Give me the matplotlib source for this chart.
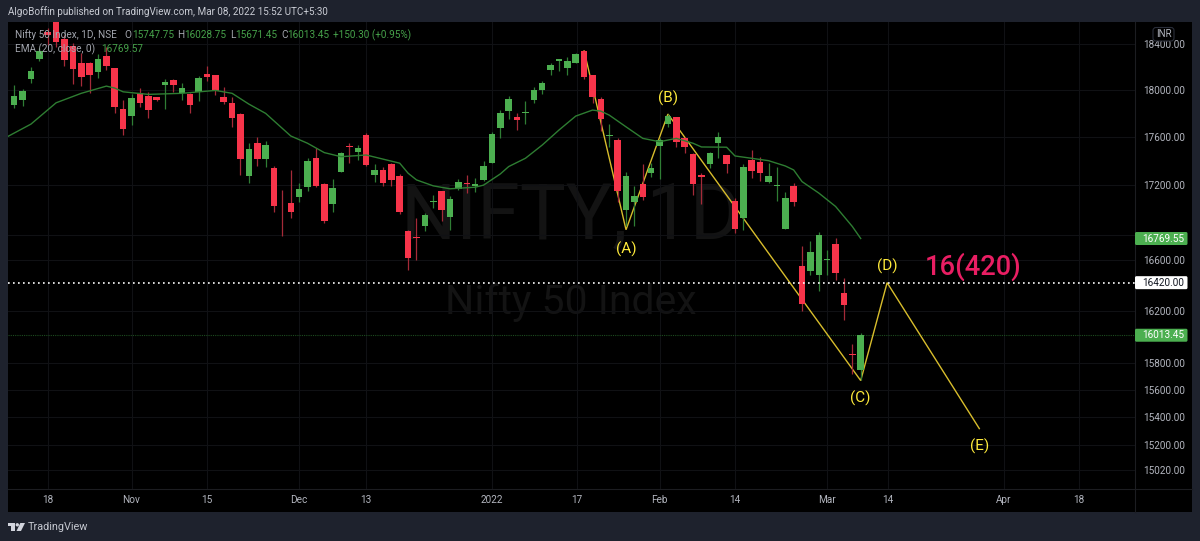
import matplotlib
matplotlib.use("Agg")
import matplotlib.pyplot as plt
from matplotlib.patches import Rectangle, FancyBboxPatch, Polygon, Circle
from matplotlib.ticker import NullLocator, FixedLocator, FixedFormatter

plt.rcParams['font.family'] = ['Roboto', 'DejaVu Sans']

# Daily NIFTY 50 candles, Oct 2021 - Mar 2022
highs = [
    18043, 18009, 18200, 18361, 18541, 18604, 18479, 18405, 18322, 18241,
    18310, 18375, 18192, 17914, 17963, 18015, 17985, 17943, 18092, 18092,
    18058, 17972, 18123, 18212, 18132, 18023, 17943, 17801, 17554, 17604,
    17565, 17360, 17164, 17327, 17218, 17424, 17507, 17218, 17253, 17479,
    17549, 17534, 17637, 17377, 17349, 17383, 17294, 16840, 16934, 16974,
    17123, 17156, 17115, 17251, 17286, 17259, 17402, 17646, 17829, 17948,
    17801, 17905, 18023, 18080, 18230, 18273, 18282, 18322, 18346, 18129,
    17943, 17708, 17595, 17308, 17191, 17374, 17383, 17590, 17795, 17772,
    17598, 17466, 17305, 17479, 17640, 17451, 17096, 17374, 17493, 17437,
    17383, 17349, 17145, 17218, 16707, 16746, 16818, 16680, 16770, 16457,
    15948, 16028.75]
body_tops = [
    17948, 17994, 18163, 18340, 18505, 18602, 18441, 18384, 18235, 18230,
    18270, 18295, 18190, 17837, 17931, 17972, 17948, 17937, 18069, 18086,
    18020, 17968, 18106, 18140, 18126, 17940, 17891, 17795, 17504, 17549,
    17537, 17341, 17060, 17055, 17170, 17404, 17427, 17213, 17180, 17471,
    17529, 17512, 17618, 17327, 17327, 17374, 17278, 16826, 16782, 16958,
    17076, 17153, 17088, 17231, 17223, 17210, 17358, 17624, 17806, 17925,
    17770, 17815, 18003, 18058, 18215, 18267, 18255, 18310, 18340, 18127,
    17923, 17620, 17573, 17280, 17109, 17210, 17341, 17573, 17780, 17767,
    17593, 17460, 17284, 17466, 17604, 17449, 17074, 17352, 17410, 17396,
    17278, 17202, 17093, 17196, 16551, 16659, 16798, 16606, 16726, 16340,
    15873, 16013.45]
body_bottoms = [
    17869, 17914, 18095, 18270, 18476, 18418, 18264, 18178, 18114, 18126,
    18155, 18212, 17857, 17671, 17780, 17886, 17829, 17914, 18040, 18043,
    17974, 17871, 17980, 18109, 17994, 17900, 17764, 17418, 17280, 17416,
    17416, 17028, 17052, 16985, 17104, 17183, 17196, 16912, 17044, 17313,
    17521, 17476, 17368, 17283, 17221, 17245, 16982, 16614, 16770, 16866,
    17066, 17003, 16939, 17172, 17213, 17199, 17245, 17388, 17680, 17820,
    17744, 17803, 17911, 17997, 18172, 18255, 18187, 18235, 18114, 17937,
    17755, 17610, 17150, 17003, 17063, 17104, 17300, 17529, 17708, 17562,
    17516, 17215, 17272, 17374, 17554, 17374, 16846, 16934, 17321, 17305,
    17231, 17196, 16848, 17066, 16250, 16514, 16481, 16595, 16498, 16247,
    15862, 15747.75]
lows = [
    17843, 17863, 18058, 18252, 18390, 18377, 18206, 18052, 18034, 17977,
    18103, 18172, 17806, 17615, 17699, 17852, 17761, 17908, 17840, 17985,
    17914, 17801, 17905, 18075, 17960, 17880, 17687, 17286, 17221, 17358,
    17355, 16987, 16786, 16934, 17068, 17156, 17183, 16894, 16987, 17311,
    17383, 17410, 17360, 17229, 17196, 17191, 16969, 16522, 16601, 16826,
    17015, 16914, 16834, 17164, 17137, 17148, 17239, 17385, 17595, 17752,
    17660, 17708, 17886, 17968, 18132, 18166, 18126, 18230, 18092, 17891,
    17652, 17521, 17068, 16866, 16872, 17082, 17272, 17251, 17687, 17516,
    17466, 17123, 17047, 17341, 17429, 17305, 16814, 16840, 17259, 17239,
    17218, 17076, 16846, 17028, 16203, 16478, 16358, 16478, 16444, 16134,
    15717, 15671.45]
# G = close above open, R = close below open
sides = ("GGGGRRRRRR" "GRRRGRRRGR" "GRGRRRRRGR" "GRRRGGRRGG" "RGRGRRRRRG"
         "GRGGRGGGGG" "RGGGGGGGRR" "RGRGGRGGGR" "RRRGGRRGRR" "GGGRRGGGRR" "RG")

# EMA(20) read at selected sessions
ema_bars = [-1, 2, 5, 8, 11, 12, 13, 16, 20, 24, 26, 28, 30, 33, 35, 37, 39, 42,
            46, 47, 48, 50, 52, 55, 56, 58, 59, 61, 63, 65, 67, 69, 70, 71, 73,
            75, 77, 79, 81, 82, 85, 86, 90, 92, 93, 94, 96, 98, 100, 101]
ema_values = [17597, 17710, 17891, 17972, 18034, 18017, 17985, 17963, 17972,
              17997, 17972, 17880, 17801, 17610, 17549, 17471, 17437, 17451,
              17383, 17300, 17245, 17196, 17172, 17185, 17202, 17294, 17355,
              17424, 17534, 17660, 17778, 17829, 17820, 17786, 17687, 17590,
              17562, 17590, 17549, 17518, 17516, 17443, 17404, 17360, 17327,
              17231, 17137, 17028, 16866, 16769.57]

# Elliott wave sketch: start, (A), (B), (C), (D), (E)
wave_bars = [68, 73, 78, 101, 104.15, 115.15]
wave_prices = [18340, 16840, 17795, 15671, 16420, 15316]

wave_labels = ["(A)", "(B)", "(C)", "(D)", "(E)"]
wave_label_bars = [73, 78, 101, 104.15, 115.15]
wave_label_prices = [16680, 17930, 15535, 16545, 15190]

time_ticks = [4, 14, 23, 34, 42, 57, 67.1, 77, 86, 97, 104.2, 118.1, 127]
time_labels = ["18", "Nov", "15", "Dec", "13", "2022", "17", "Feb", "14", "Mar", "14", "Apr", "18"]

price_ticks = [18400, 18000, 17600, 17200, 16600, 16200, 15800, 15600, 15400, 15200, 15020]
hidden_grid_prices = [16800]
target_level = 16420
last_close = 16013.45
ema_last_label = 16769.55

RED = "#f7344a"
GREEN = "#4caf50"
RED_WICK = "#a52a38"
GREEN_WICK = "#2f7d34"
GRID = "#101114"
FRAME = "#1e222d"
SEP = "#1c1d21"
LABEL = "#b2b5be"
YELLOW = "#ffeb3b"
SMALL = 7.2

W, H = 1200, 541
fig = plt.figure(figsize=(W / 100, H / 100), dpi=100, facecolor=FRAME)

# Back layer in pixel coordinates: panel and watermark
back = fig.add_axes([0, 0, 1, 1], zorder=0)
back.set_xlim(0, W)
back.set_ylim(H, 0)
back.axis("off")
back.add_patch(Rectangle((8.4, 22), 1183.3, 490, fc="black", ec="none"))
back.text(571, 217, "NIFTY, 1D", color="#131313", fontsize=55.5, ha="center", va="center")
back.text(571, 302, "Nifty 50 Index", color="#131313", fontsize=29.5, ha="center", va="center")

# Price pane
L, R, T, B = 8.4, 1134.7, 22, 489
ax = fig.add_axes([L / W, 1 - B / H, (R - L) / W, (B - T) / H], zorder=1)
ax.patch.set_alpha(0)
ax.set_yscale("log")
ax.set_xlim(-0.69, 133.69)
ax.set_ylim(14881, 18594)
for s in ax.spines.values():
    s.set_visible(False)

ax.yaxis.set_major_locator(FixedLocator(price_ticks))
ax.yaxis.set_major_formatter(FixedFormatter([f"{p:.2f}" for p in price_ticks]))
ax.yaxis.set_minor_locator(NullLocator())
ax.yaxis.tick_right()
ax.tick_params(axis="y", length=0, pad=6, labelcolor=LABEL, labelsize=SMALL)
ax.set_xticks(time_ticks)
ax.set_xticklabels(time_labels)
ax.tick_params(axis="x", length=0, pad=4.5, labelcolor=LABEL, labelsize=SMALL)
ax.grid(True, color=GRID, lw=0.8, zorder=0)
ax.set_axisbelow(True)
for p in hidden_grid_prices:
    ax.axhline(p, color=GRID, lw=0.8, zorder=0)

ax.axhline(last_close, color="#1d4d20", lw=0.8, ls=(0, (1, 1)), zorder=1)
ax.axhline(target_level, color="white", lw=1.2, ls=(0, (1, 2)), zorder=6)

ax.plot(wave_bars, wave_prices, color="#d8bd2c", lw=1.0, zorder=2, solid_joinstyle="miter")

for i, side in enumerate(sides):
    body = GREEN if side == "G" else RED
    wick = GREEN_WICK if side == "G" else RED_WICK
    ax.vlines(i, lows[i], highs[i], color=wick, lw=0.9, zorder=3)
    ax.bar(i, body_tops[i] - body_bottoms[i], bottom=body_bottoms[i], width=0.78,
           color=body, linewidth=0, zorder=4)

ax.plot(ema_bars, ema_values, color="#2e7d32", lw=1.0, zorder=5)

for lab, bx, py in zip(wave_labels, wave_label_bars, wave_label_prices):
    ax.text(bx, py, lab, color=YELLOW, fontsize=11, ha="center", va="center", zorder=7)
ax.text(114.4, 16548, "16(420)", color="#e91e63", fontsize=19.6, fontweight="medium",
        ha="center", va="center", zorder=7)

# Front layer in pixel coordinates: frame lines, price badges, header and legend
front = fig.add_axes([0, 0, 1, 1], zorder=2)
front.set_xlim(0, W)
front.set_ylim(H, 0)
front.axis("off")
front.patch.set_alpha(0)
front.plot([R, R], [22, 512], color=SEP, lw=0.8)
front.plot([L, 1191.7], [B, B], color=SEP, lw=0.8)


def price_y(price):
    """Pixel row of a price on the price pane."""
    return H - ax.transData.transform((0, price))[1]


def badge(price, text, fc, tc):
    y = price_y(price)
    front.add_patch(FancyBboxPatch((1135, y - 6.5), 52.5, 13,
                                   boxstyle="round,pad=0,rounding_size=1.5",
                                   fc=fc, ec="none", zorder=8))
    front.text(1163, y + 0.2, text, color=tc, fontsize=SMALL, ha="center", va="center", zorder=9)


badge(ema_last_label, "16769.55", GREEN, "white")
badge(target_level, "16420.00", "white", "#131722")
badge(last_close, "16013.45", GREEN, "white")

front.add_patch(FancyBboxPatch((1153, 27.5), 21, 13.5, boxstyle="round,pad=0,rounding_size=3",
                               fc="black", ec="#2a2e39", lw=0.8, zorder=8))
front.text(1163.5, 34.3, "INR", color=LABEL, fontsize=7, ha="center", va="center", zorder=9)

front.text(8, 12, "AlgoBoffin published on TradingView.com, Mar 08, 2022 15:52 UTC+5:30",
           color="#c9ccd4", fontsize=7.15, ha="left", va="center")

LEG = "#a3a6ae"
VAL = "#46a14a"
legend_y1, legend_y2 = 35, 49
for x, s, c in [(15, "Nifty 50 Index, 1D, NSE", LEG), (124, "O", LEG), (131.7, "15747.75", VAL),
                (177.3, "H", LEG), (184.3, "16028.75", VAL), (230, "L", LEG), (235, "15671.45", VAL),
                (281, "C", LEG), (287.3, "16013.45", VAL), (333.3, "+150.30 (+0.95%)", VAL)]:
    front.text(x, legend_y1, s, color=c, fontsize=SMALL, ha="left", va="center")
front.text(15, legend_y2, "EMA (20, close, 0)", color=LEG, fontsize=SMALL, ha="left", va="center")
front.text(101, legend_y2, "16769.57", color=VAL, fontsize=SMALL, ha="left", va="center")

# TradingView mark
logo = "#d1d4dc"
front.add_patch(Polygon([(8, 523), (15, 523), (15, 531), (11, 531), (11, 526.3), (8, 526.3)], fc=logo, ec="none"))
front.add_patch(Circle((17.3, 524.8), 1.7, fc=logo, ec="none"))
front.add_patch(Polygon([(20.3, 523), (25, 523), (21, 531), (16.5, 531)], fc=logo, ec="none"))
front.text(28, 527, "TradingView", color="#c5c8d0", fontsize=7.8, ha="left", va="center")

fig.savefig("out.png", dpi=100, facecolor=fig.get_facecolor())
